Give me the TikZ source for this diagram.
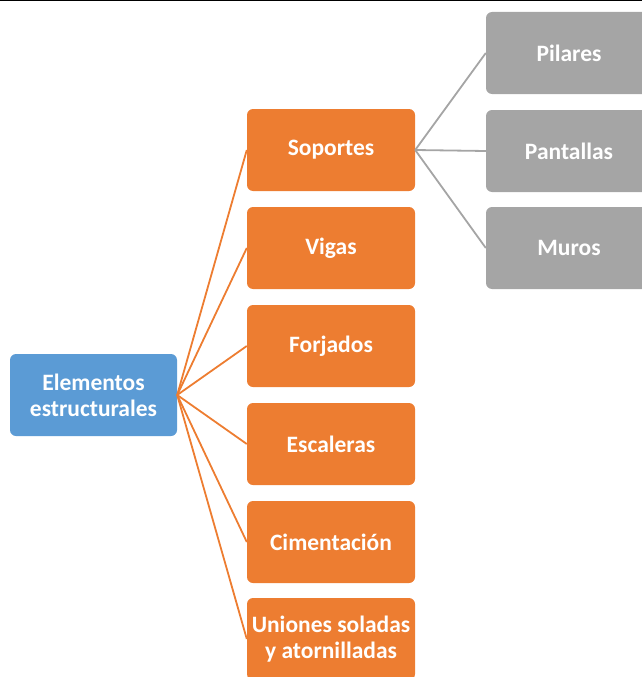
\documentclass[tikz,border=0pt]{standalone}
\usepackage{fontspec}
\setmainfont{Carlito}
\definecolor{rootblue}{HTML}{5B9BD5}
\definecolor{boxorange}{HTML}{ED7D31}
\definecolor{boxgray}{HTML}{A5A5A5}
\begin{document}
\begin{tikzpicture}[x=1pt,y=-1pt,
  base/.style={rectangle, rounded corners=6pt, text=white, align=center,
    font=\fontsize{23.5}{26}\selectfont\bfseries, inner sep=0pt,
    minimum height=82pt},
  rootbox/.style={base, fill=rootblue, minimum width=167pt},
  orangebox/.style={base, fill=boxorange, minimum width=168pt},
  graybox/.style={base, fill=boxgray, minimum width=166pt},
  oline/.style={draw=boxorange, line width=1.8pt},
  gline/.style={draw=boxgray, line width=1.8pt}]
\useasboundingbox (0,0) rectangle (642,677);
\clip (0,0) rectangle (642,677);
\draw[line width=1pt] (0,1) -- (642,1);
\node[rootbox] (root) at (93.5,395) {Elementos\\estructurales};
\node[orangebox] (sop) at (331,150) {Soportes};
\node[orangebox] (vig) at (331,248) {Vigas};
\node[orangebox] (for) at (331,346) {Forjados};
\node[orangebox] (esc) at (331,444) {Escaleras};
\node[orangebox] (cim) at (331,542) {Cimentación};
\node[orangebox] (uni) at (331,639) {Uniones soladas\\y atornilladas};
\node[graybox] (pil) at (569,53) {Pilares};
\node[graybox] (pan) at (569,151) {Pantallas};
\node[graybox] (mur) at (569,248) {Muros};
\foreach \t in {sop,vig,for,esc,cim,uni}
  \draw[oline] (root.east) -- (\t.west);
\foreach \t in {pil,pan,mur}
  \draw[gline] (sop.east) -- (\t.west);
\end{tikzpicture}
\end{document}
